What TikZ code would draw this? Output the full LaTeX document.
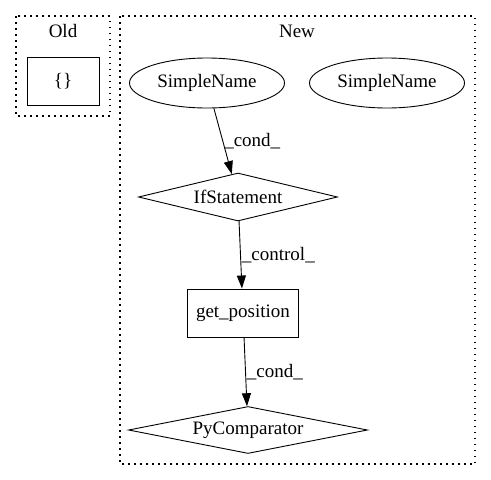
\documentclass[tikz,border=0pt]{standalone}
\usepackage{fontspec}
\setmainfont{Liberation Serif}
\usetikzlibrary{shapes.geometric,arrows.meta}

\begin{document}
\begin{tikzpicture}[x=1pt, y=-1pt,
  nodes = {font=\fontsize{19}{22}\selectfont},
  cluster/.style={draw, line width=1.2pt, dash pattern=on 1.5pt off 4.5pt},
  ast/.style={draw, line width=0.9pt, inner sep=0pt},
  oval/.style={ast, ellipse, minimum width=155pt, minimum height=50pt},
  cond/.style={ast, diamond, aspect=4, minimum height=48pt},
  stmt/.style={ast, rectangle, minimum height=48pt},
  flow/.style={-{Triangle[length=13pt,width=9pt]}, line width=0.9pt}]
  \useasboundingbox (0,0) rectangle (491,480);
  % clusters
  \draw[cluster] (16,16) rectangle (110,116);
  \draw[cluster] (120,16) rectangle (475,464);
  \node (oldlbl) at (63,31) {Old};
  \node (newlbl) at (297,31) {New};
  % nodes
  \node[stmt, minimum width=72pt] (brace) at (63,81) {\{\}};
  \node[oval] (sname1) at (207,83) {SimpleName};
  \node[oval] (sname2) at (387,83) {SimpleName};
  \node[cond, minimum width=199pt] (ifstmt) at (238,197) {IfStatement};
  \node[stmt, minimum width=111pt] (getpos) at (243,313) {get\_position};
  \node[cond, minimum width=239pt, minimum height=47pt] (pycomp) at (248,430) {PyComparator};
  % edges
  \foreach \from/\to/\lbl in {sname1/ifstmt/cond, ifstmt/getpos/control, getpos/pycomp/cond}
    \draw[flow] (\from) -- node[anchor=west, inner sep=1pt] (lbl-\from) {\_\lbl\_} (\to);
\end{tikzpicture}
\end{document}
